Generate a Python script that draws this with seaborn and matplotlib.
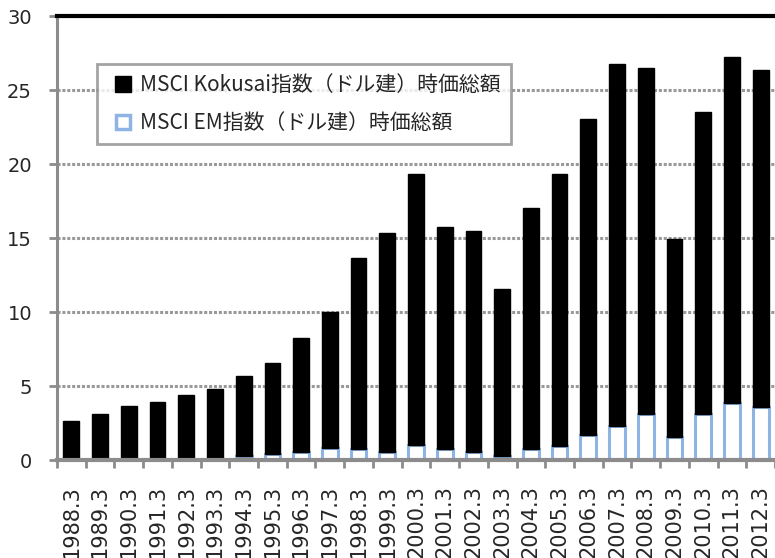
import pandas as pd
import matplotlib
matplotlib.use("Agg")
import matplotlib.pyplot as plt
import seaborn as sns
from matplotlib.lines import Line2D

# -----------------------------
# Data (trillion USD)
# -----------------------------
years = ["1988.3", "1989.3", "1990.3", "1991.3", "1992.3", "1993.3", "1994.3",
         "1995.3", "1996.3", "1997.3", "1998.3", "1999.3", "2000.3", "2001.3",
         "2002.3", "2003.3", "2004.3", "2005.3", "2006.3", "2007.3", "2008.3",
         "2009.3", "2010.3", "2011.3", "2012.3"]
kokusai = [2.65, 3.10, 3.67, 3.95, 4.35, 4.73, 5.40, 6.13, 7.69, 9.15, 12.94,
           14.78, 18.34, 15.05, 14.91, 11.31, 16.34, 18.35, 21.37, 24.52,
           23.34, 13.37, 20.35, 23.34, 22.80]
em = [0.0, 0.0, 0.0, 0.0, 0.02, 0.10, 0.27, 0.40, 0.56, 0.83, 0.72, 0.56,
      1.00, 0.72, 0.56, 0.27, 0.72, 0.97, 1.68, 2.27, 3.13, 1.54, 3.13,
      3.86, 3.56]

label_kokusai = "MSCI Kokusai指数（ドル建）時価総額"
label_em = "MSCI EM指数（ドル建）時価総額"

df = pd.DataFrame({"year": years, "kokusai": kokusai, "em": em})

# -----------------------------
# Style
# -----------------------------
sns.set_style("white")
plt.rcParams["font.family"] = ["Noto Sans CJK JP", "DejaVu Sans"]

grey = "#8c8c8c"
em_edge = "#8db4e2"

fig = plt.figure(figsize=(7.75, 5.58), dpi=100)
ax = fig.add_axes([57 / 775, 1 - 460 / 558, 1 - 57 / 775, 444 / 558])

# EM bars at the bottom (white with light blue outline)
sns.barplot(data=df, x="year", y="em", color="white", saturation=1,
            edgecolor=em_edge, linewidth=2.2, width=0.55, ax=ax, zorder=3)
n_em = len(ax.patches)

# Kokusai bars stacked on top of EM
sns.barplot(data=df, x="year", y="kokusai", color="black", saturation=1,
            edgecolor="black", linewidth=1, width=0.55, ax=ax, zorder=4)
for p, base in zip(ax.patches[n_em:], df["em"]):
    p.set_y(base)

ax.set_ylim(0, 30)
ax.set_xlim(-0.5, len(years) - 0.5)
ax.set_yticks(range(0, 31, 5))
ax.set_xlabel("")
ax.set_ylabel("")

# gridlines
ax.yaxis.grid(True, color="#999999", linestyle=(0, (1, 0.6)), linewidth=2.2)
ax.set_axisbelow(True)

# spines
ax.spines["top"].set_color("black")
ax.spines["top"].set_linewidth(3)
ax.spines["top"].set_zorder(5)
ax.spines["right"].set_visible(False)
ax.spines["left"].set_color(grey)
ax.spines["left"].set_linewidth(2.2)
ax.spines["bottom"].set_color(grey)
ax.spines["bottom"].set_linewidth(3)
ax.spines["bottom"].set_zorder(5)

# ticks: x ticks at category boundaries
ax.set_xticks([i - 0.5 for i in range(len(years) + 1)], minor=False)
ax.set_xticklabels([""] * (len(years) + 1))
ax.set_xticks(range(len(years)), minor=True)
ax.set_xticklabels(years, minor=True, rotation=90, fontsize=15,
                   family=["DejaVu Sans"])
ax.tick_params(axis="x", which="major", length=6, width=2, color=grey,
               direction="out", bottom=True)
ax.tick_params(axis="x", which="minor", length=0, pad=18)
ax.tick_params(axis="y", length=6, width=2, color=grey, direction="out",
               left=True, labelsize=14, pad=12)
for t in ax.get_yticklabels():
    t.set_family(["DejaVu Sans"])

# legend
handles = [
    Line2D([], [], linestyle="none", marker="s", markersize=11,
           markerfacecolor="black", markeredgecolor="black",
           label=label_kokusai),
    Line2D([], [], linestyle="none", marker="s", markersize=10,
           markerfacecolor="white", markeredgecolor=em_edge,
           markeredgewidth=2.5, label=label_em),
]
leg = ax.legend(handles=handles, loc="upper left",
                bbox_to_anchor=(97 / 775, 1 - 64 / 558),
                bbox_transform=fig.transFigure, borderaxespad=0,
                fontsize=15, frameon=True, fancybox=False,
                handlelength=1.5, handletextpad=0.05,
                labelspacing=0.75, borderpad=0.5)
leg.get_frame().set_edgecolor(grey)
leg.get_frame().set_linewidth(2)
leg.set_zorder(6)

fig.savefig("out.png", dpi=100)
